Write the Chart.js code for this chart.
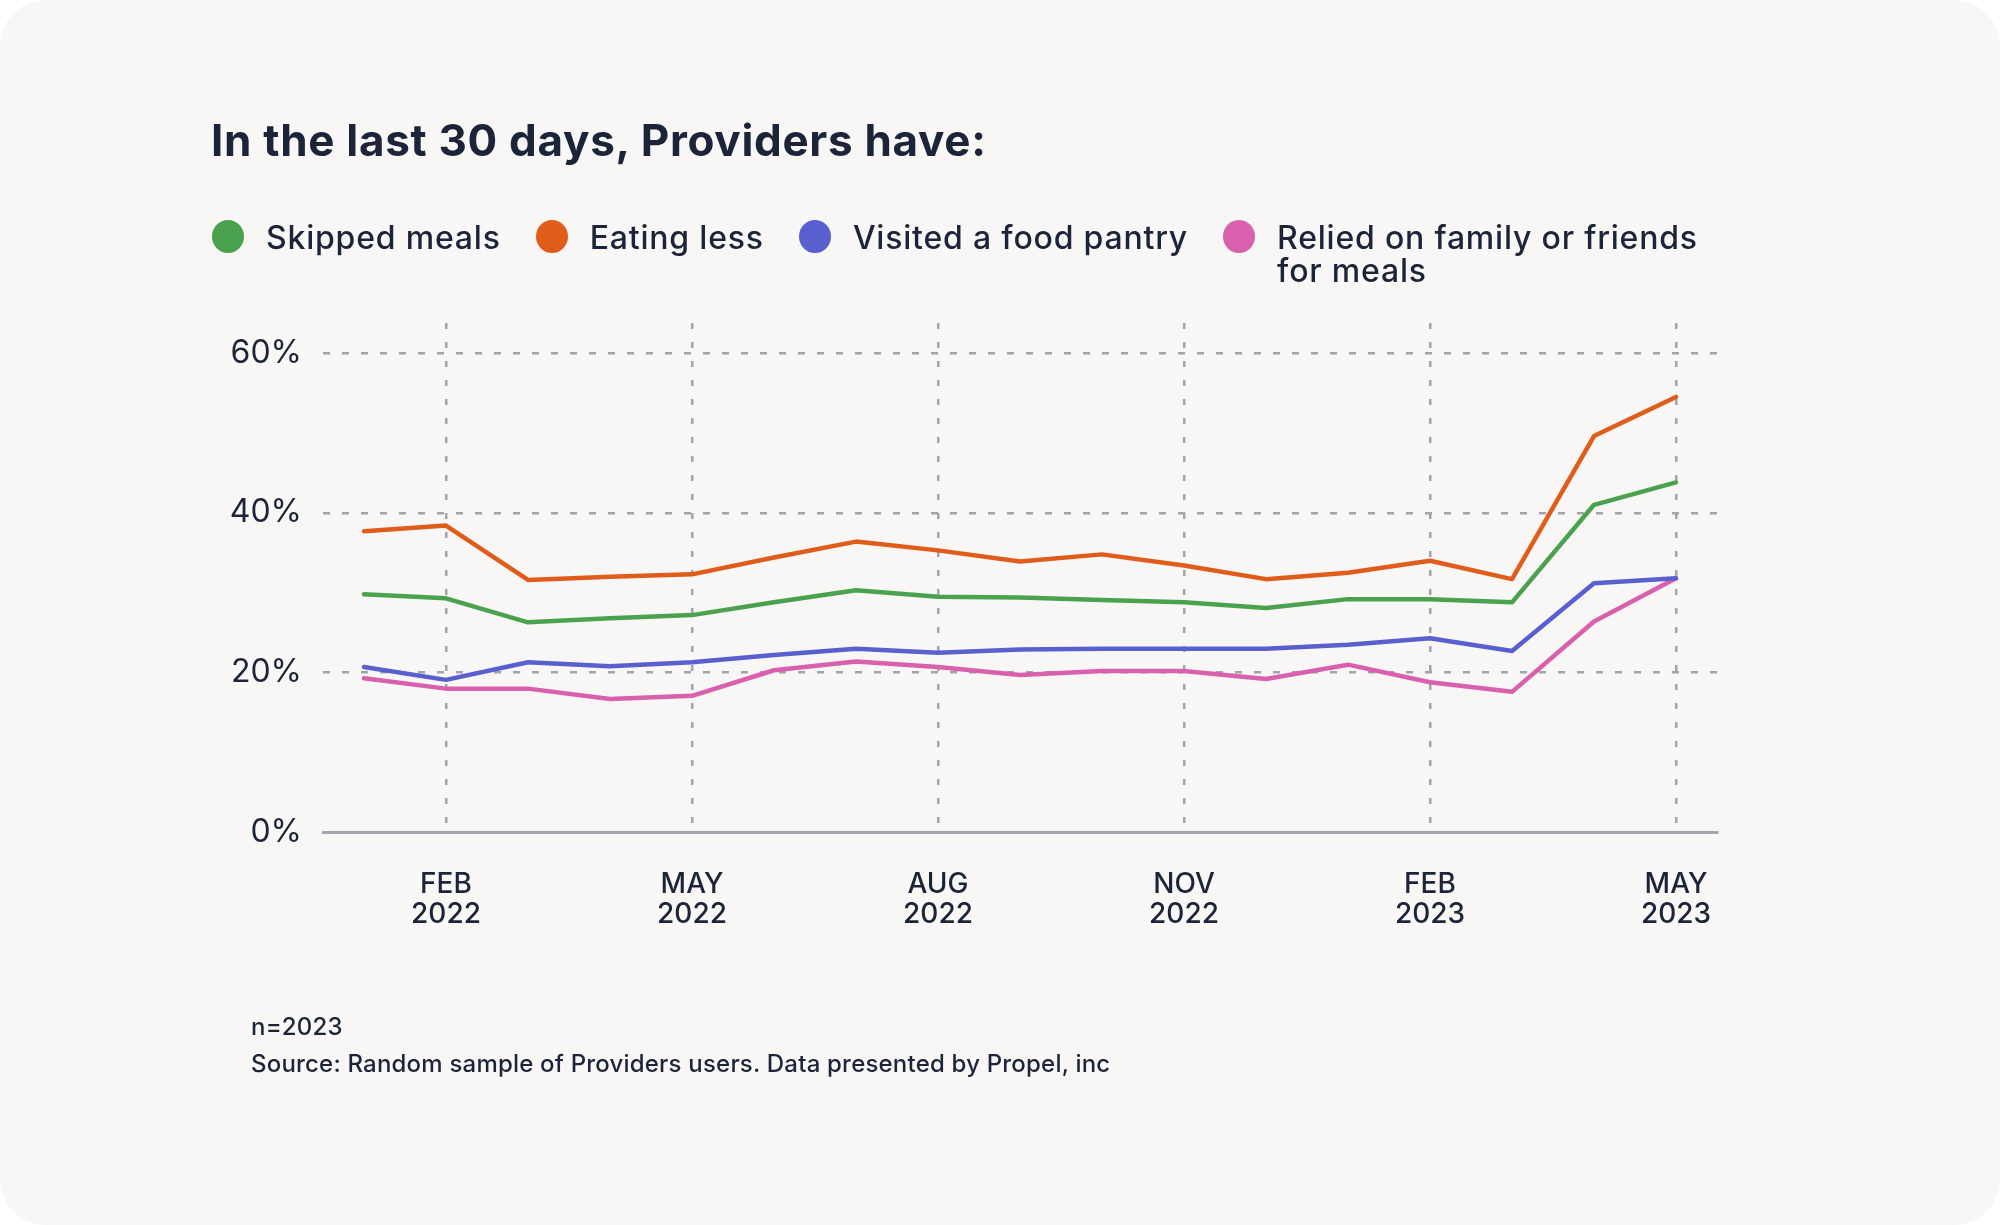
<!DOCTYPE html>
<html>
<head>
<meta charset="utf-8">
<script src="https://cdn.jsdelivr.net/npm/chart.js@4.4.0/dist/chart.umd.min.js"></script>
<style>
  html, body { margin: 0; padding: 0; background: #ffffff; }
  body { width: 2000px; height: 1225px; position: relative; overflow: hidden; font-family: Inter, "Noto Sans", sans-serif; color: #1b2438; }
  .card { position: absolute; left: 0; top: 0; width: 2000px; height: 1225px; background: #f8f7f5; border-radius: 46px; }
  #chart { position: absolute; left: 0; top: 0; }
  .title { position: absolute; left: 211px; top: 118px; font-size: 44px; font-weight: 700; line-height: 1; letter-spacing: 0.7px; white-space: nowrap; }
  .legend { position: absolute; left: 212px; top: 221px; display: flex; align-items: flex-start; }
  .legend .item { display: flex; align-items: flex-start; margin-right: 35px; }
  .legend .dot { width: 32px; height: 33px; border-radius: 50%; margin-right: 22px; flex: none; margin-top: -1px; }
  .legend .txt { font-size: 32px; font-weight: 500; line-height: 33px; letter-spacing: 0.8px; }
  .foot { position: absolute; left: 251px; font-size: 24px; font-weight: 500; letter-spacing: 0.2px; line-height: 1; white-space: nowrap; }
</style>
</head>
<body>
<div class="card"></div>
<canvas id="chart" width="2000" height="1225"></canvas>
<div class="title">In the last 30 days, Providers have:</div>
<div class="legend" id="legend"></div>
<div class="foot" style="top:1015px">n=2023</div>
<div class="foot" style="top:1052px">Source: Random sample of Providers users. Data presented by Propel, inc</div>
<script>
// месяцы Jan 2022 .. May 2023
const months = ['JAN', 'FEB', 'MAR', 'APR', 'MAY', 'JUN', 'JUL', 'AUG', 'SEP', 'OCT', 'NOV', 'DEC', 'JAN', 'FEB', 'MAR', 'APR', 'MAY'];
const years = ['2022', '2022', '2022', '2022', '2022', '2022', '2022', '2022', '2022', '2022', '2022', '2022', '2023', '2023', '2023', '2023', '2023'];
const shownTicks = [1, 4, 7, 10, 13, 16];
const yTicks = [0, 20, 40, 60];

const seriesNames = ['Skipped meals', 'Eating less', 'Visited a food pantry', ['Relied on family or friends', 'for meals']];
const seriesColors = ['#4aa24e', '#e05c1b', '#5a5fcf', '#d860ac'];

const skippedMeals = [29.8, 29.3, 26.3, 26.8, 27.2, 28.8, 30.3, 29.5, 29.4, 29.1, 28.8, 28.1, 29.2, 29.2, 28.8, 41.0, 43.8];
const eatingLess = [37.7, 38.4, 31.6, 32.0, 32.3, 34.4, 36.4, 35.3, 33.9, 34.8, 33.4, 31.7, 32.5, 34.0, 31.7, 49.6, 54.5];
const foodPantry = [20.7, 19.1, 21.3, 20.8, 21.3, 22.2, 23.0, 22.5, 22.9, 23.0, 23.0, 23.0, 23.5, 24.3, 22.7, 31.2, 31.8];
const familyFriends = [19.3, 18.0, 18.0, 16.7, 17.1, 20.3, 21.4, 20.7, 19.7, 20.2, 20.2, 19.2, 21.0, 18.8, 17.6, 26.4, 31.8];

const seriesData = [skippedMeals, eatingLess, foodPantry, familyFriends];
const labels = months.map((m, i) => [m, years[i]]);

// HTML легенда (последняя подпись в две строки)
const legendEl = document.getElementById('legend');
seriesNames.forEach((name, i) => {
    const item = document.createElement('div');
    item.className = 'item';
    const dot = document.createElement('div');
    dot.className = 'dot';
    dot.style.background = seriesColors[i];
    const txt = document.createElement('div');
    txt.className = 'txt';
    txt.innerHTML = Array.isArray(name) ? name.join('<br>') : name;
    item.appendChild(dot);
    item.appendChild(txt);
    legendEl.appendChild(item);
});

const gridGrey = '#a1a4ab';

new Chart(document.getElementById('chart').getContext('2d'), {
    type: 'line',
    data: {
        labels: labels,
        datasets: seriesData.map((d, i) => ({
            label: Array.isArray(seriesNames[i]) ? seriesNames[i].join(' ') : seriesNames[i],
            data: d,
            borderColor: seriesColors[i],
            backgroundColor: seriesColors[i],
            borderWidth: 4.5,
            pointRadius: 0,
            tension: 0,
            borderCapStyle: 'round',
            borderJoinStyle: 'round',
            fill: false
        }))
    },
    options: {
        responsive: false,
        devicePixelRatio: 1,
        animation: false,
        layout: { padding: { top: 323, right: 283, left: 0, bottom: 0 } },
        plugins: {
            legend: { display: false },
            title: { display: false },
            tooltip: { enabled: false }
        },
        scales: {
            x: {
                type: 'category',
                offset: true,
                afterFit: scale => { scale.height = 1225 - 323 - 509.5; },
                grid: {
                    drawTicks: false,
                    lineWidth: 2.5,
                    color: ctx => shownTicks.includes(ctx.index) ? gridGrey : 'rgba(0,0,0,0)'
                },
                border: { display: true, color: '#a3a6ad', width: 3, dash: [6, 13] },
                ticks: {
                    autoSkip: false,
                    maxRotation: 0,
                    padding: 37,
                    color: '#1b2438',
                    font: { family: 'Inter', size: 28, weight: 500, lineHeight: 1.08 },
                    callback: function (value, index) {
                        return shownTicks.includes(index) ? this.getLabelForValue(value) : '';
                    }
                }
            },
            y: {
                min: 0,
                max: 63.75,
                afterFit: scale => { scale.width = 323; },
                afterBuildTicks: scale => { scale.ticks = yTicks.map(v => ({ value: v })); },
                grid: {
                    drawTicks: false,
                    lineWidth: 2.5,
                    color: ctx => (ctx.tick && ctx.tick.value === 0) ? 'rgba(0,0,0,0)' : gridGrey
                },
                border: { display: false, dash: [7, 12] },
                ticks: {
                    padding: 21,
                    color: '#1b2438',
                    font: { family: 'Inter', size: 32 },
                    callback: v => v + '%'
                }
            }
        }
    }
});
</script>
</body>
</html>
